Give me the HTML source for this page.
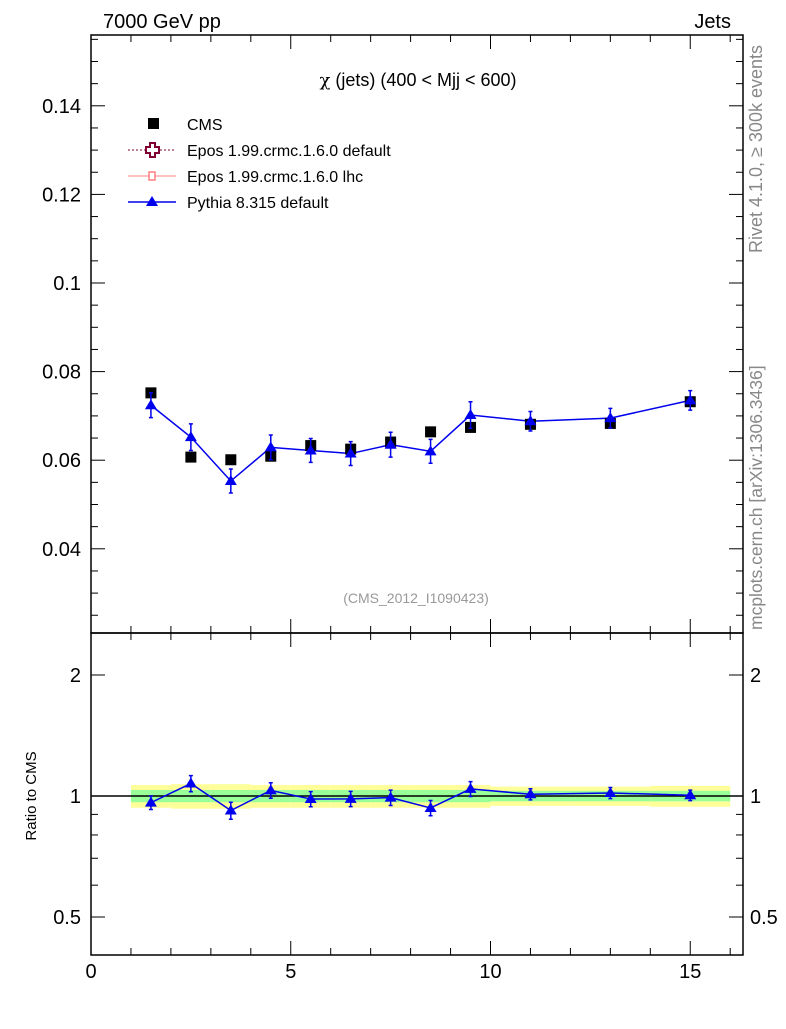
<!DOCTYPE html>
<html><head><meta charset="utf-8"><style>
body{margin:0;background:#fff;}
svg text{font-family:"Liberation Sans",sans-serif;}
</style></head><body>
<svg id="c" width="786" height="1024" xmlns="http://www.w3.org/2000/svg">
<rect width="786" height="1024" fill="#fff"/>
<text x="103" y="28" font-size="20">7000 GeV pp</text>
<text x="731" y="28" font-size="20" text-anchor="end">Jets</text>
<text x="418" y="86" font-size="18" text-anchor="middle"><tspan font-family="DejaVu Serif">χ</tspan> (jets) (400 &lt; Mjj &lt;  600)</text>
<text x="416" y="603" font-size="14" fill="#999" text-anchor="middle">(CMS_2012_I1090423)</text>
<text transform="translate(762,253) rotate(-90)" font-size="18" fill="#888">Rivet 4.1.0, ≥ 300k events</text>
<text transform="translate(762,630) rotate(-90)" font-size="17.5" fill="#888">mcplots.cern.ch [arXiv:1306.3436]</text>
<text transform="translate(36,796) rotate(-90)" font-size="15" text-anchor="middle">Ratio to CMS</text>
<g id="legend">
<rect x="148" y="118" width="11" height="11" fill="#000"/>
<text x="187" y="130" font-size="16">CMS</text>
<line x1="128" y1="150" x2="176" y2="150" stroke="#800033" stroke-dasharray="2,2"/>
<path d="M150,143h5v4h4v6h-4v4h-5v-4h-4v-6h4z" fill="#fff" stroke="#800033" stroke-width="2"/>
<text x="187" y="156" font-size="16">Epos 1.99.crmc.1.6.0 default</text>
<line x1="128" y1="176" x2="176" y2="176" stroke="#ff8080"/>
<rect x="149" y="172" width="6" height="8" fill="#fff" stroke="#ff8080" stroke-width="1.5"/>
<text x="187" y="182" font-size="16">Epos 1.99.crmc.1.6.0 lhc</text>
<line x1="128" y1="202" x2="176" y2="202" stroke="#0000ee" stroke-width="1.5"/>
<path d="M152,196l6,10h-12z" fill="#0000ee"/>
<text x="187" y="208" font-size="16">Pythia 8.315 default</text>
</g>
</svg>
<script>
const xCenters=[1.5,2.5,3.5,4.5,5.5,6.5,7.5,8.5,9.5,11,13,15];
const xLo=[1,2,3,4,5,6,7,8,9,10,12,14];
const xHi=[2,3,4,5,6,7,8,9,10,12,14,16];
const cmsVals=[0.0752,0.0607,0.0601,0.0609,0.0633,0.0625,0.0641,0.0664,0.0674,0.0681,0.0683,0.0732];
const cmsRelErr1=[0.035,0.035,0.035,0.035,0.035,0.035,0.035,0.035,0.035,0.03,0.03,0.03];
const cmsRelErr2=[0.065,0.07,0.07,0.065,0.065,0.065,0.065,0.065,0.065,0.055,0.055,0.06];
const pyVals=[0.0724,0.0652,0.0553,0.0629,0.0622,0.0615,0.0635,0.0620,0.0702,0.0688,0.0695,0.0735];
const pyErr=[0.0028,0.0030,0.0027,0.0028,0.0027,0.0027,0.0028,0.0027,0.0030,0.0022,0.0022,0.0022];
const yTicks=[0.04,0.06,0.08,0.1,0.12,0.14];
const yTickLabels=["0.04","0.06","0.08","0.1","0.12","0.14"];
const xTicks=[0,5,10,15];
const rTicks=[0.5,1,2];
const rTickLabels=["0.5","1","2"];

const NS="http://www.w3.org/2000/svg";
const svg=document.getElementById('c');
const L=91,R=743,T=35,M=633,B=955;
const X=v=>91+v*39.95;
const Y=v=>283-(v-0.1)*4430;
const RY=v=>796-Math.log2(v)*121;
function mk(tag,a,parent){const e=document.createElementNS(NS,tag);for(const k in a)e.setAttribute(k,a[k]);(parent||svg).appendChild(e);return e;}

xCenters.forEach((c,i)=>{
 const b=mk('rect',{x:X(xLo[i]),y:RY(1+cmsRelErr2[i]),width:X(xHi[i])-X(xLo[i]),height:RY(1-cmsRelErr2[i])-RY(1+cmsRelErr2[i]),fill:'#ffff99'});
 
 
 const g=mk('rect',{x:X(xLo[i]),y:RY(1+cmsRelErr1[i]),width:X(xHi[i])-X(xLo[i]),height:RY(1-cmsRelErr1[i])-RY(1+cmsRelErr1[i]),fill:'#99ff99'});
 
 
});
const one=mk('line',{x1:L,x2:R,y1:RY(1),y2:RY(1),stroke:'#000','stroke-width':1.5});



const f1=mk('rect',{x:L,y:T,width:R-L,height:M-T,fill:'none',stroke:'#000','stroke-width':1.5});


const f2=mk('rect',{x:L,y:M,width:R-L,height:B-M,fill:'none',stroke:'#000','stroke-width':1.5});



for(let v=0;v<=16;v++){
 const len=v%5===0?14:7;
 [[T,1],[M,-1],[M,1],[B,-1]].forEach(([y0,d])=>{
  const t=mk('line',{x1:X(v),x2:X(v),y1:y0,y2:y0+d*len,stroke:'#000'});
  
  
 });
}
xTicks.forEach(v=>{
 const t=mk('text',{x:X(v),y:978,'font-size':20,'text-anchor':'middle'});t.textContent=v;
 
 
});
for(let k=0;k<=27;k++){
 const v=0.025+k*0.005;const y=Y(v);if(y<T||y>M)continue;
 const maj=Math.abs((v*100)%2)<0.01||Math.abs((v*100)%2-2)<0.01;
 const len=maj?14:7;
 const a=mk('line',{x1:L,x2:L+len,y1:y,y2:y,stroke:'#000'});
 
 
 const b=mk('line',{x1:R,x2:R-len,y1:y,y2:y,stroke:'#000'});
 
 
}
yTicks.forEach((v,i)=>{
 const t=mk('text',{x:81,y:Y(v)+7,'font-size':20,'text-anchor':'end'});t.textContent=yTickLabels[i];
 
 
});
[0.5,0.6,0.7,0.8,0.9,1,2].forEach(v=>{
 const len=rTicks.includes(v)?14:7;
 const a=mk('line',{x1:L,x2:L+len,y1:RY(v),y2:RY(v),stroke:'#000'});
 
 
 const b=mk('line',{x1:R,x2:R-len,y1:RY(v),y2:RY(v),stroke:'#000'});
 
 
});
rTicks.forEach((v,i)=>{
 const t=mk('text',{x:81,y:RY(v)+7,'font-size':20,'text-anchor':'end'});t.textContent=rTickLabels[i];
 
 
 const t2=mk('text',{x:750,y:RY(v)+7,'font-size':20});t2.textContent=rTickLabels[i];
 
 
});

const pl=mk('polyline',{points:xCenters.map((c,i)=>X(c)+','+Y(pyVals[i])).join(' '),fill:'none',stroke:'#0000ee','stroke-width':1.5});


const rl=mk('polyline',{points:xCenters.map((c,i)=>X(c)+','+RY(pyVals[i]/cmsVals[i])).join(' '),fill:'none',stroke:'#0000ee','stroke-width':1.5});


function tri(x,y,name){
 const p=mk('path',{d:`M${x},${y-6}l6,10h-12z`,fill:'#0000ee'});
 
 
}
function ebar(x,y1,y2,name){
 const e=mk('path',{d:`M${x},${y1}V${y2}M${x-2},${y1}h4M${x-2},${y2}h4`,stroke:'#0000ee','stroke-width':1.5,fill:'none'});
 
 
}
xCenters.forEach((c,i)=>{
 const s=mk('rect',{x:X(c)-5.5,y:Y(cmsVals[i])-5.5,width:11,height:11,fill:'#000'});
 
 
 ebar(X(c),Y(pyVals[i]+pyErr[i]),Y(pyVals[i]-pyErr[i]),'pythia-error-bar');
 tri(X(c),Y(pyVals[i]),'pythia-point');
 const r=pyVals[i]/cmsVals[i],re=pyErr[i]/cmsVals[i];
 ebar(X(c),RY(r+re),RY(r-re),'pythia-ratio-error-bar');
 tri(X(c),RY(r),'pythia-ratio-point');
});
svg.appendChild(document.getElementById('legend'));
</script>
</body></html>
